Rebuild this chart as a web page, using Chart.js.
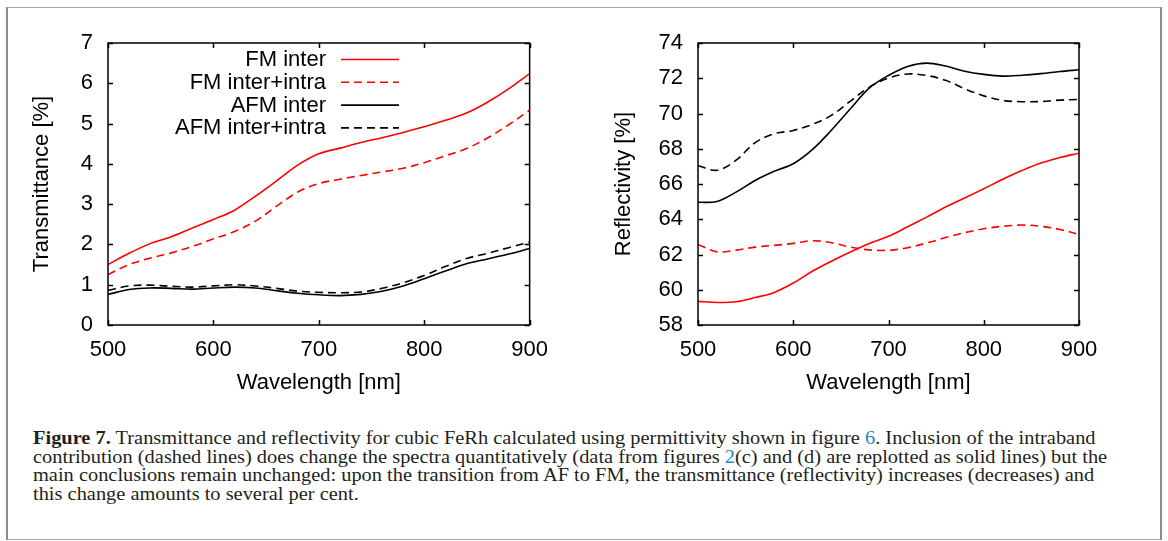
<!DOCTYPE html>
<html>
<head>
<meta charset="utf-8">
<script src="https://cdn.jsdelivr.net/npm/chart.js@4.4.1/dist/chart.umd.min.js"></script>
<style>
  html, body { margin: 0; padding: 0; background: #fff; }
  body { width: 1168px; height: 541px; position: relative; overflow: hidden; }
  #frame {
    position: absolute; left: 6px; top: 7px; width: 1152px; height: 531px;
    border: 1px solid #a8a8a8; border-left: 2px solid #8c8c8c; border-right: 2px solid #8c8c8c;
  }
  .plot { position: absolute; top: 0; }
  #caption {
    position: absolute; left: 33px; top: 429px; width: 1010px;
    font-family: "Liberation Serif", "DejaVu Serif", serif; font-size: 18.3px;
    line-height: 18.6px; color: #231f20; white-space: nowrap;
    transform: scaleX(1.116); transform-origin: 0 0;
  }
  #caption .ref { color: #1b8ac4; }
</style>
</head>
<body>
<div id="frame"></div>
<div class="plot" style="left:0px;width:560px;height:400px"><canvas id="transChart"></canvas></div>
<div class="plot" style="left:580px;width:580px;height:400px"><canvas id="reflChart"></canvas></div>
<div id="caption">
<b>Figure 7.</b> Transmittance and reflectivity for cubic FeRh calculated using permittivity shown in figure <span class="ref">6</span>. Inclusion of the intraband<br>
contribution (dashed lines) does change the spectra quantitatively (data from figures <span class="ref">2</span>(c) and (d) are replotted as solid lines) but the<br>
main conclusions remain unchanged: upon the transition from AF to FM, the transmittance (reflectivity) increases (decreases) and<br>
this change amounts to several per cent.
</div>
<script>
// wavelength grid [nm]
const wavelengths = [500, 520, 540, 560, 580, 600, 620, 640, 660, 680, 700, 720, 740, 760, 780, 800, 820, 840, 860, 880, 900];

// transmittance [%]
const transFmInter  = [1.50, 1.78, 2.02, 2.19, 2.41, 2.62, 2.85, 3.20, 3.58, 3.97, 4.25, 4.39, 4.53, 4.65, 4.78, 4.92, 5.08, 5.26, 5.53, 5.86, 6.24];
const transFmIntra  = [1.25, 1.50, 1.66, 1.79, 1.95, 2.14, 2.32, 2.58, 2.95, 3.30, 3.51, 3.62, 3.71, 3.80, 3.89, 4.03, 4.20, 4.38, 4.64, 4.97, 5.33];
const transAfmInter = [0.76, 0.88, 0.92, 0.91, 0.89, 0.92, 0.94, 0.92, 0.85, 0.79, 0.75, 0.73, 0.76, 0.84, 0.97, 1.15, 1.34, 1.52, 1.64, 1.76, 1.90];
const transAfmIntra = [0.86, 0.97, 0.99, 0.96, 0.94, 0.97, 1.00, 0.97, 0.91, 0.84, 0.81, 0.80, 0.82, 0.91, 1.05, 1.23, 1.45, 1.65, 1.78, 1.92, 2.06];

// reflectivity [%]
const reflFmInter  = [59.34, 59.28, 59.32, 59.56, 59.85, 60.38, 61.05, 61.62, 62.14, 62.62, 63.03, 63.57, 64.12, 64.69, 65.21, 65.73, 66.27, 66.76, 67.19, 67.50, 67.75];
const reflFmIntra  = [62.57, 62.15, 62.25, 62.42, 62.52, 62.63, 62.78, 62.67, 62.42, 62.26, 62.24, 62.38, 62.65, 62.96, 63.24, 63.46, 63.60, 63.67, 63.60, 63.42, 63.14];
const reflAfmInter = [64.96, 65.01, 65.54, 66.20, 66.72, 67.15, 67.95, 69.05, 70.27, 71.45, 72.16, 72.67, 72.86, 72.69, 72.40, 72.22, 72.12, 72.17, 72.26, 72.38, 72.48];
const reflAfmIntra = [67.04, 66.78, 67.35, 68.35, 68.85, 69.04, 69.38, 69.89, 70.70, 71.50, 72.01, 72.24, 72.16, 71.88, 71.40, 71.00, 70.74, 70.67, 70.68, 70.76, 70.80];

const seriesLabels = ['FM inter', 'FM inter+intra', 'AFM inter', 'AFM inter+intra'];

// tick values
const waveTicks  = [500, 600, 700, 800, 900];
const transTicks = [0, 1, 2, 3, 4, 5, 6, 7];
const reflTicks  = [58, 60, 62, 64, 66, 68, 70, 72, 74];

const FONT = '"Liberation Sans", Arial, sans-serif';
const RED = '#ff0000';
const DASH = [8, 5];

function toPoints(ys) {
    return ys.map((y, i) => ({ x: wavelengths[i], y: y }));
}

function makeDatasets(fmInter, fmIntra, afmInter, afmIntra) {
    const vals = [fmInter, fmIntra, afmInter, afmIntra];
    const colors = [RED, RED, '#000', '#000'];
    return vals.map((v, i) => ({
        label: seriesLabels[i],
        data: toPoints(v),
        borderColor: colors[i],
        borderWidth: 1.6,
        borderDash: i % 2 ? DASH : [],
        pointRadius: 0,
        tension: 0.35,
        fill: false
    }));
}

// gnuplot style frame with inward ticks on every side
const framePlugin = {
    id: 'frame',
    afterDatasetsDraw(chart) {
        const { ctx, chartArea: a, scales } = chart;
        const len = 5;
        ctx.save();
        ctx.strokeStyle = '#000';
        ctx.lineWidth = 1.5;
        ctx.beginPath();
        scales.x.ticks.forEach(t => {
            const px = Math.round(scales.x.getPixelForValue(t.value)) + 0.5;
            ctx.moveTo(px, a.bottom); ctx.lineTo(px, a.bottom - len);
            ctx.moveTo(px, a.top); ctx.lineTo(px, a.top + len);
        });
        scales.y.ticks.forEach(t => {
            const py = Math.round(scales.y.getPixelForValue(t.value)) + 0.5;
            ctx.moveTo(a.left, py); ctx.lineTo(a.left + len, py);
            ctx.moveTo(a.right, py); ctx.lineTo(a.right - len, py);
        });
        ctx.stroke();
        ctx.strokeRect(a.left, a.top, a.right - a.left, a.bottom - a.top);
        ctx.restore();
    }
};

// legend: text right aligned, line sample on the right (gnuplot key)
const keyPlugin = {
    id: 'gnukey',
    afterDatasetsDraw(chart, args, opts) {
        if (!opts.show) return;
        const { ctx, chartArea: a } = chart;
        ctx.save();
        ctx.font = '22px ' + FONT;
        ctx.textAlign = 'right';
        ctx.textBaseline = 'middle';
        chart.data.datasets.forEach((ds, i) => {
            const y = a.top + 16 + i * 22.8;
            ctx.fillStyle = '#000';
            ctx.fillText(ds.label, a.left + 218, y + 1);
            ctx.strokeStyle = ds.borderColor;
            ctx.lineWidth = ds.borderWidth;
            ctx.setLineDash(ds.borderDash);
            ctx.beginPath();
            ctx.moveTo(a.left + 233, y + 0.5);
            ctx.lineTo(a.left + 291, y + 0.5);
            ctx.stroke();
        });
        ctx.restore();
    }
};

function makeChart(id, datasets, yTicks, yTitle, yWidth, titlePad, padRight, showKey) {
    return new Chart(document.getElementById(id), {
        type: 'line',
        data: { datasets: datasets },
        plugins: [framePlugin, keyPlugin],
        options: {
            responsive: true,
            maintainAspectRatio: false,
            animation: false,
            layout: { padding: { left: 0, top: 43, right: padRight, bottom: 0 } },
            plugins: {
                legend: { display: false },
                tooltip: { enabled: false },
                gnukey: { show: showKey }
            },
            scales: {
                x: {
                    type: 'linear',
                    min: waveTicks[0],
                    max: waveTicks[waveTicks.length - 1],
                    afterBuildTicks: s => { s.ticks = waveTicks.map(v => ({ value: v })); },
                    afterFit: s => { s.height = 75; },
                    grid: { display: false, drawTicks: false },
                    border: { display: false },
                    ticks: { color: '#000', padding: 12, maxRotation: 0, font: { family: FONT, size: 22 } },
                    title: { display: true, text: 'Wavelength [nm]', color: '#000', padding: { top: 0, bottom: 4 }, font: { family: FONT, size: 22 } }
                },
                y: {
                    type: 'linear',
                    min: yTicks[0],
                    max: yTicks[yTicks.length - 1],
                    afterBuildTicks: s => { s.ticks = yTicks.map(v => ({ value: v })); },
                    afterFit: s => { s.width = yWidth; },
                    grid: { display: false, drawTicks: false },
                    border: { display: false },
                    ticks: { color: '#000', padding: 15, font: { family: FONT, size: 22 } },
                    title: { display: true, text: yTitle, color: '#000', padding: { top: titlePad, bottom: 0 }, font: { family: FONT, size: 22 } }
                }
            }
        }
    });
}

makeChart('transChart',
    makeDatasets(transFmInter, transFmIntra, transAfmInter, transAfmIntra),
    transTicks, 'Transmittance [%]', 108, 29, 30, true);

makeChart('reflChart',
    makeDatasets(reflFmInter, reflFmIntra, reflAfmInter, reflAfmIntra),
    reflTicks, 'Reflectivity [%]', 118, 31, 81, false);
</script>
</body>
</html>
